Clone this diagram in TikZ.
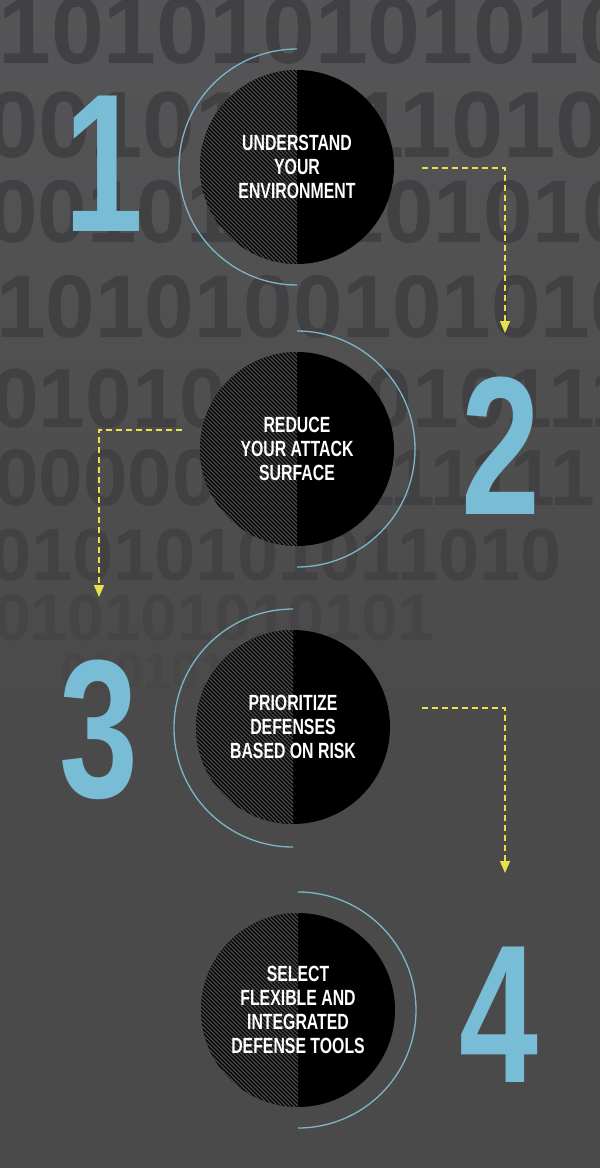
\documentclass[tikz,border=0pt]{standalone}
\usepackage{fontspec}
\usepackage{xcolor}
\usetikzlibrary{calc, positioning, arrows.meta}
\newfontfamily\condfont{Liberation Sans}[FakeStretch=0.72]
\newfontfamily\bitfont{Liberation Sans}

\definecolor{bgbase}{HTML}{4A4A4A}
\definecolor{bgtop}{HTML}{555557}
\definecolor{bitgray}{HTML}{414144}
\definecolor{stepblue}{HTML}{78BDD5}
\definecolor{ringblue}{HTML}{7DB6CB}
\definecolor{flowyellow}{HTML}{E9E14B}
\definecolor{hatchgray}{HTML}{4C4C4C}

\tikzset{
  >={Triangle[width=10pt,length=12pt]},
  stepcircle/.style={circle, fill=black, minimum size=194pt, inner sep=0pt,
    text=white, align=center, font=\condfont\bfseries\fontsize{22}{24}\selectfont,
    path picture={
      \clip (path picture bounding box.north west) rectangle (path picture bounding box.south);
      \foreach \k in {-220,-216,...,220}
        \draw[hatchgray, line width=1.2pt] ([xshift=\k pt]path picture bounding box.center) ++(-110,110) -- ++(220,-220);
    }},
  ring/.style={ringblue, line width=1.3pt},
  flow/.style={flowyellow, line width=1.3pt, dash pattern=on 6pt off 4pt, ->},
  stepnum/.style={stepblue, inner sep=0pt, anchor=south,
    font=\condfont\bfseries\fontsize{197}{197}\selectfont},
  bits/.style={bitgray, inner sep=0pt, anchor=base west}
}

\begin{document}
\begin{tikzpicture}[x=1pt, y=1pt]
\useasboundingbox (0,0) rectangle (600,-1168);
% background
\shade[top color=bgtop, bottom color=bgbase] (0,0) rectangle (600,-720);
\fill[bgbase] (0,-720) rectangle (600,-1168);
\begin{scope}
\clip (0,0) rectangle (600,-1168);
\foreach \x/\y/\s/\op/\bits in {
  -2/63/95/1/1010101010101,
  -14/157/94/1/0010100110100,
  -12/242/89/1/0010100101010,
  -4/337/89/1/1010100101010,
  -8/427/84/1/01010101010111,
  -6/505/80/1/00000000111111,
  -10/580/74/0.9/01010101011010,
  -6/640/66/0.6/010101010101,
  60/688/50/0.3/01010101}
  \node[bits, opacity=\op, font=\bitfont\bfseries\fontsize{\s}{\s}\selectfont] (row\y) at (\x,-\y) {\bits};
\end{scope}

% steps
\node[stepcircle] (c1) at (297,-167) {UNDERSTAND\\YOUR\\ENVIRONMENT};
\node[stepcircle] (c2) at (297,-449) {REDUCE\\YOUR ATTACK\\SURFACE};
\node[stepcircle] (c3) at (293,-727) {PRIORITIZE\\DEFENSES\\BASED ON RISK};
\node[stepcircle] (c4) at (298,-1010) {SELECT\\FLEXIBLE AND\\INTEGRATED\\DEFENSE TOOLS};

\draw[ring] (c1.center) ++(0,118) arc[start angle=90, end angle=270, radius=118];
\draw[ring] (c2.center) ++(0,118) arc[start angle=90, end angle=-90, radius=118];
\draw[ring] (c3.center) ++(0,118) arc[start angle=90, end angle=270, radius=119];
\draw[ring] (c4.center) ++(0,118) arc[start angle=90, end angle=-90, radius=118];

\node[stepnum] (n1) at (104,-232) {1};
\node[stepnum] (n2) at (501,-515) {2};
\node[stepnum] (n3) at (99,-800) {3};
\node[stepnum] (n4) at (499,-1083) {4};

% arrows
\coordinate (f1) at (422,-168);
\coordinate (t1) at (505,-333);
\coordinate (f2) at (182,-430);
\coordinate (t2) at (99,-597);
\coordinate (f3) at (422,-708);
\coordinate (t3) at (505,-873);
\draw[flow] (f1) -| (t1);
\draw[flow] (f2) -| (t2);
\draw[flow] (f3) -| (t3);
\end{tikzpicture}
\end{document}
